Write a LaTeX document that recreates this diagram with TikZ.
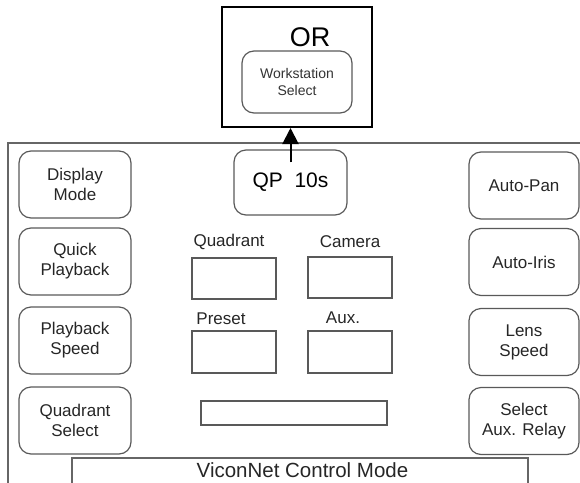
\documentclass[tikz,border=0pt]{standalone}
\usepackage{fontspec}
\setmainfont{Liberation Sans}
\usetikzlibrary{arrows.meta, positioning}

\tikzset{
  button/.style={draw=black!65, line width=1.2pt, rounded corners=12pt,
    minimum width=112pt, minimum height=67pt, inner sep=0pt, align=center,
    font=\fontsize{17}{20}\selectfont, text=black!85},
  field/.style={draw=black!65, line width=1.2pt, minimum width=84pt,
    minimum height=41pt, inner sep=0pt},
  fieldlabel/.style={font=\fontsize{17}{20}\selectfont, text=black!85, inner sep=0pt}
}

\begin{document}
\begin{tikzpicture}[x=1pt, y=-1pt]
\useasboundingbox (0,0) rectangle (580,482);
\clip (0,0) rectangle (580,482);

% Panel frame
\draw[black!60, line width=1.5pt] (8,143) rectangle (640,560);

% Workstation option
\node[draw, line width=2pt, minimum width=150pt, minimum height=120pt] (orbox) at (297,67) {};
\node[font=\fontsize{27}{30}\selectfont, inner sep=0pt] (ortext) at (310,37) {OR};
\node[button, minimum width=110pt, minimum height=62pt,
  font=\fontsize{14}{17}\selectfont, text=black!80] (ws) at (297,82) {Workstation\\Select};

% Centre button
\node[button, minimum width=113pt, minimum height=65pt,
  font=\fontsize{21}{24}\selectfont, text=black] (qp) at (290.5,182.5) {QP\ \ 10s};
\draw[line width=2pt, -{Triangle[width=16pt, length=16pt]}]
  ([yshift=-13pt]qp.north) -- (qp.north |- orbox.south);

% Left buttons
\foreach \name/\txt/\y in {disp/{Display\\Mode}/184.5, quick/{Quick\\Playback}/261.5,
  speed/{Playback\\Speed}/340.5, quad/{Quadrant\\Select}/420.5}
{
\node[button] (\name) at (75,\y) {\txt};
}

% Right buttons
\foreach \name/\txt/\y in {pan/{Auto-Pan}/185.5, iris/{Auto-Iris}/262,
  lens/{Lens\\Speed}/342, relay/{Select\\Aux. Relay}/421}
{
\node[button, minimum width=110pt] (\name) at (524,\y) {\txt};
}

% Display fields
\node[field] (fquad) at (234,278.5) {};
\node[field] (fcam) at (350,277.5) {};
\node[field, minimum height=42pt] (fpre) at (234,352) {};
\node[field, minimum height=42pt] (faux) at (350,352) {};
\node[field, minimum width=186pt, minimum height=24pt] (fwide) at (294,413) {};

\node[fieldlabel] (lquad) at (229,242) {Quadrant};
\node[fieldlabel] (lcam) at (350,242) {Camera};
\node[fieldlabel] (lpre) at (221,319) {Preset};
\node[fieldlabel] (laux) at (343,318) {Aux.};

% Mode bar
\draw[black!60, line width=1.2pt] (72,520) |- (528,458) -- (528,520);
\node[font=\fontsize{20.5}{24}\selectfont, text=black!85, inner sep=0pt] (mode) at (302.5,470.5) {ViconNet Control Mode};

\end{tikzpicture}
\end{document}
